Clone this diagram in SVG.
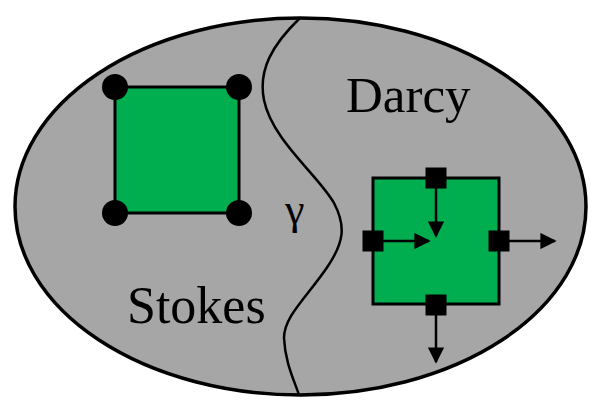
<svg xmlns="http://www.w3.org/2000/svg" width="594" height="401" viewBox="0 0 594 401">
  <style>
    .domain { fill: #a6a6a6; stroke: #000; stroke-width: 3.5; }
    .cell { fill: #00ad4f; stroke: #000; stroke-width: 3; }
    .iface { fill: none; stroke: #000; stroke-width: 2.5; }
    .flux { stroke: #000; stroke-width: 2.5; fill: none; }
    .lbl { font-family: "Liberation Serif", "Times New Roman", serif; fill: #000; }
  </style>
  <defs>
    <marker id="head" viewBox="0 0 10 10" refX="9" refY="5" markerWidth="6.5" markerHeight="6.5" markerUnits="strokeWidth" orient="auto">
      <path d="M0,0 L10,5 L0,10 Z" fill="#000"/>
    </marker>
  </defs>

  <!-- outer domain -->
  <ellipse class="domain" cx="300.5" cy="206.5" rx="285.5" ry="188.5"/>

  <!-- interface gamma between the two subdomains -->
  <path class="iface" d="M300,18 C272,45 258,70 264,100 C272,140 318,175 334,203 C346,226 344,242 328,266 C308,296 284,316 284,338 C285,362 294,380 299,395"/>

  <g id="stokes-cell">
    <rect class="cell" x="115" y="87" width="124" height="126"/>
    <circle cx="115" cy="87" r="13"/>
    <circle cx="239" cy="87" r="13"/>
    <circle cx="115" cy="213" r="13"/>
    <circle cx="239" cy="213" r="13"/>
  </g>

  <g id="darcy-cell">
    <rect class="cell" x="373" y="178" width="126" height="126"/>
  </g>

  <g id="fluxes">
    <line class="flux" x1="436" y1="178" x2="436" y2="236" marker-end="url(#head)"/>
    <line class="flux" x1="373" y1="241" x2="429" y2="241" marker-end="url(#head)"/>
    <line class="flux" x1="499" y1="241" x2="555" y2="241" marker-end="url(#head)"/>
    <line class="flux" x1="436" y1="304" x2="436" y2="362" marker-end="url(#head)"/>
  </g>

  <g id="darcy-dofs" fill="#000">
    <rect x="425.5" y="167.5" width="21" height="21"/>
    <rect x="362.5" y="230.5" width="21" height="21"/>
    <rect x="488.5" y="230.5" width="21" height="21"/>
    <rect x="425.5" y="294.5" width="21" height="21"/>
  </g>

  <g id="labels">
    <text class="lbl" x="346" y="112" font-size="51">Darcy</text>
    <text class="lbl" x="127" y="323" font-size="52">Stokes</text>
    <text class="lbl" x="285" y="224" font-size="44">γ</text>
  </g>
</svg>
